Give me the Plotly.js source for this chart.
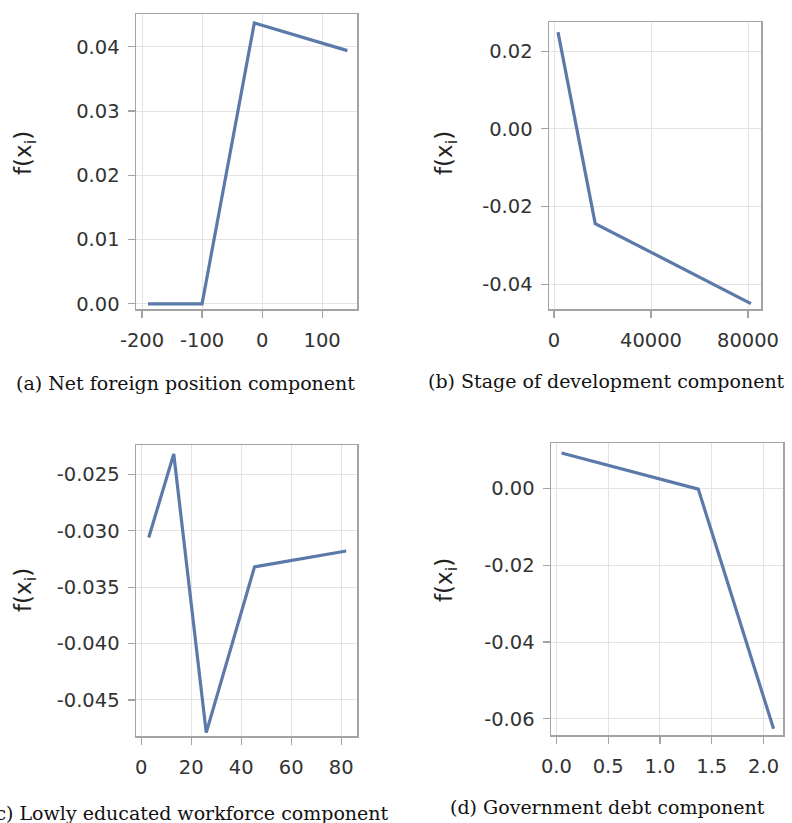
<!DOCTYPE html>
<html>
<head>
<meta charset="utf-8">
<script src="https://cdn.plot.ly/plotly-3.0.1.min.js"></script>
<style>html,body{margin:0;padding:0;background:#fff;}#chart{width:792px;height:823px;}</style>
</head>
<body>
<div id="chart"></div>
<script>
// (a) Net foreign position component
const xA = [-190, -100, -13, 142];
const yA = [0.0, 0.0, 0.0437, 0.0394];
const xTicksA = [-200, -100, 0, 100];
const xLabelsA = ["-200", "-100", "0", "100"];
const yTicksA = [0.00, 0.01, 0.02, 0.03, 0.04];
const yLabelsA = ["0.00", "0.01", "0.02", "0.03", "0.04"];

// (b) Stage of development component
const xB = [1650, 17000, 81200];
const yB = [0.0249, -0.0244, -0.0450];
const xTicksB = [0, 40000, 80000];
const xLabelsB = ["0", "40000", "80000"];
const yTicksB = [-0.04, -0.02, 0.00, 0.02];
const yLabelsB = ["-0.04", "-0.02", "0.00", "0.02"];

// (c) Lowly educated workforce component
const xC = [3, 13, 26, 45.3, 82];
const yC = [-0.0306, -0.0232, -0.0479, -0.0332, -0.0318];
const xTicksC = [0, 20, 40, 60, 80];
const xLabelsC = ["0", "20", "40", "60", "80"];
const yTicksC = [-0.045, -0.040, -0.035, -0.030, -0.025];
const yLabelsC = ["-0.045", "-0.040", "-0.035", "-0.030", "-0.025"];

// (d) Government debt component
const xD = [0.05, 1.37, 2.097];
const yD = [0.0092, -0.0002, -0.0626];
const xTicksD = [0.0, 0.5, 1.0, 1.5, 2.0];
const xLabelsD = ["0.0", "0.5", "1.0", "1.5", "2.0"];
const yTicksD = [-0.06, -0.04, -0.02, 0.00];
const yLabelsD = ["-0.06", "-0.04", "-0.02", "0.00"];

const captions = [
  "(a) Net foreign position component",
  "(b) Stage of development component",
  "(c) Lowly educated workforce component",
  "(d) Government debt component"
];
const yLabel = "f(x<sub>i</sub>)";

const W = 792, H = 823;
const lineColor = "#5b7aa9";
const frameColor = "#a3a3a3";
const gridColor = "#e4e4e4";
const tickFont = {family: "DejaVu Sans", size: 19.5, color: "#333333"};

function mkTrace(x, y, xa, ya) {
  return {x: x, y: y, xaxis: xa, yaxis: ya, type: "scatter", mode: "lines",
          line: {color: lineColor, width: 3.2}, hoverinfo: "skip", showlegend: false};
}

function ax(domain, range, tv, tt, anchor, standoff) {
  return {
    domain: domain, range: range, anchor: anchor,
    tickmode: "array", tickvals: tv, ticktext: tt,
    showline: true, mirror: true, linecolor: frameColor, linewidth: 1.5,
    ticks: "outside", ticklen: 7, tickwidth: 1.2, tickcolor: frameColor,
    showgrid: true, gridcolor: gridColor, gridwidth: 1,
    zeroline: false, tickfont: tickFont, ticklabelstandoff: standoff,
    fixedrange: true
  };
}
function dx(a, b) { return [a / W, b / W]; }
function dy(top, bot) { return [1 - bot / H, 1 - top / H]; }

const data = [
  mkTrace(xA, yA, "x", "y"),
  mkTrace(xB, yB, "x2", "y2"),
  mkTrace(xC, yC, "x3", "y3"),
  mkTrace(xD, yD, "x4", "y4")
];

const layout = {
  width: W, height: H, autosize: false,
  margin: {l: 0, r: 0, t: 0, b: 0},
  paper_bgcolor: "#ffffff", plot_bgcolor: "#ffffff",
  showlegend: false,
  xaxis:  ax(dx(136, 357), [-210, 158], xTicksA, xLabelsA, "y", 6),
  yaxis:  ax(dy(14, 309), [-0.0008, 0.0451], yTicksA, yLabelsA, "x", 4),
  xaxis2: ax(dx(549, 761), [-2060, 85360], xTicksB, xLabelsB, "y2", 6),
  yaxis2: ax(dy(22, 309), [-0.0464, 0.0275], yTicksB, yLabelsB, "x2", 4),
  xaxis3: ax(dx(136, 357), [-2.1, 86.3], xTicksC, xLabelsC, "y3", 6),
  yaxis3: ax(dy(445, 736), [-0.0482, -0.0224], yTicksC, yLabelsC, "x3", 4),
  xaxis4: ax(dx(551, 783), [-0.052, 2.188], xTicksD, xLabelsD, "y4", 6),
  yaxis4: ax(dy(443, 735), [-0.0642, 0.0118], yTicksD, yLabelsD, "x4", 4),
  annotations: []
};

const yLabPos = [[25, 153], [446, 153], [25, 590], [446, 580]];
yLabPos.forEach(p => layout.annotations.push({
  text: yLabel, xref: "paper", yref: "paper",
  x: p[0] / W, y: 1 - p[1] / H, xanchor: "center", yanchor: "middle",
  textangle: -90, showarrow: false,
  font: {family: "DejaVu Sans", size: 23, color: "#222222"}
}));

const capPos = [[185, 383], [606, 381], [188, 813], [607, 807]];
capPos.forEach((p, i) => layout.annotations.push({
  text: captions[i], xref: "paper", yref: "paper",
  x: p[0] / W, y: 1 - p[1] / H, xanchor: "center", yanchor: "middle",
  showarrow: false,
  font: {family: "DejaVu Serif", size: 19, color: "#111111"}
}));

Plotly.newPlot("chart", data, layout, {displayModeBar: false, staticPlot: true});
</script>
</body>
</html>
